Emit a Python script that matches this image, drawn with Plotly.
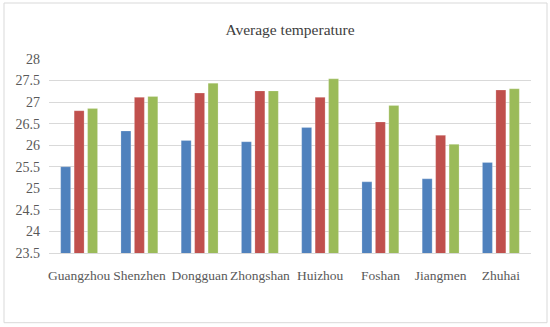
import plotly.graph_objects as go

cities = ["Guangzhou", "Shenzhen", "Dongguan", "Zhongshan", "Huizhou", "Foshan", "Jiangmen", "Zhuhai"]
series_a = [25.50, 26.33, 26.11, 26.08, 26.41, 25.15, 25.22, 25.60]
series_b = [26.80, 27.11, 27.21, 27.26, 27.11, 26.54, 26.23, 27.28]
series_c = [26.85, 27.13, 27.44, 27.26, 27.54, 26.92, 26.02, 27.31]
y_ticks = [23.5, 24, 24.5, 25, 25.5, 26, 26.5, 27, 27.5, 28]
colors = ["#4F81BD", "#C0504D", "#9BBB59"]

W, H = 550, 327
ml, mr, mt, mb = 49, 19, 59, 74
pw = W - ml - mr
ph = H - mt - mb

fig = go.Figure()
for name, vals, col in zip(["A", "B", "C"], [series_a, series_b, series_c], colors):
    fig.add_trace(go.Bar(x=cities, y=vals, name=name, marker=dict(color=col, line=dict(color="rgba(255,255,255,0.35)", width=0.6))))

font_family = "Liberation Serif, Times New Roman, serif"
fig.update_layout(
    width=W, height=H,
    margin=dict(l=ml, r=mr, t=mt, b=mb, autoexpand=False),
    paper_bgcolor="white", plot_bgcolor="white",
    barmode="group", bargap=0.33, bargroupgap=0.26,
    showlegend=False,
    title=dict(text="Average temperature", x=290 / W, xanchor="center", y=1 - 30 / H, yanchor="middle",
               font=dict(family=font_family, size=15.5, color="#404040")),
    font=dict(family=font_family, color="#595959"),
)
fig.update_yaxes(range=[23.5, 28], tickvals=y_ticks, ticktext=[str(t) for t in y_ticks],
                 showgrid=True, gridcolor="#D9D9D9", gridwidth=1, zeroline=False,
                 showline=False, ticks="", ticklabelstandoff=8, automargin=False,
                 tickfont=dict(family=font_family, size=14, color="#595959"))
fig.update_xaxes(showline=True, linecolor="#D9D9D9", linewidth=1, ticks="", tickangle=0,
                 automargin=False,
                 tickfont=dict(family=font_family, size=13.5, color="#595959"),
                 ticklabelstandoff=10)

fig.add_shape(type="rect", xref="paper", yref="paper",
              x0=(4 - ml) / pw, x1=(547 - ml) / pw,
              y0=(H - mb - 322.7) / ph, y1=(H - mb - 3) / ph,
              line=dict(color="#D9D9D9", width=1), fillcolor="rgba(0,0,0,0)", layer="below")

fig.write_html("out.html", config={"displayModeBar": False},
               post_script="document.body.style.margin='0';document.body.style.padding='0';")
